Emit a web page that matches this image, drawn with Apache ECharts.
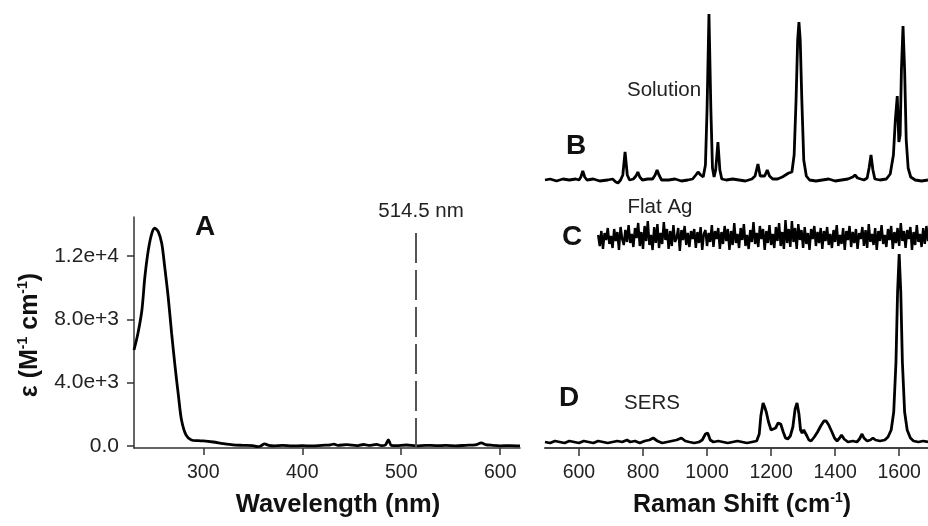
<!DOCTYPE html>
<html><head><meta charset="utf-8">
<script src="https://cdn.jsdelivr.net/npm/echarts@6/dist/echarts.min.js"></script>
<style>html,body{margin:0;padding:0;background:#fff}#c{width:928px;height:526px}</style>
</head><body><div id="c"></div>
<script>
// ---- Panel A: UV-vis absorption ----
const uvWavelengthTicks = [300, 400, 500, 600];
const uvEpsTicks = [0, 4000, 8000, 12000];
const uvEpsTickLabels = ['0.0', '4.0e+3', '8.0e+3', '1.2e+4'];
const uvSpectrum = [
  [230,6070],[234,7130],[238,8600],[241,10700],[244.5,12400],[248,13450],[251,13770],[254.5,13560],
  [258,12820],[261,11340],[264.5,9440],[268,7130],[271.5,5020],[275,3120],[278,1640],[282.5,700],
  [288,380],[295,330],[300,320],[310,250],[320,150],[330,70],[340,40],[350,20],[355,-40],[358,0],
  [362,130],[366,40],[372,10],[380,30],[390,0],[400,20],[410,0],[420,40],[428,60],[432,120],[436,40],
  [445,80],[455,20],[462,90],[468,30],[475,100],[480,20],[484,60],[487,380],[490,40],[495,20],[505,60],
  [515,10],[525,40],[535,20],[545,30],[555,10],[565,40],[575,70],[581,190],[585,90],[592,40],[600,10],
  [610,20],[620,0]
];
const laserWavelength = 514.5;
const laserLineTop = 13800;

// ---- Panels B, C, D: Raman spectra (arbitrary intensity) ----
const ramanTicks = [600, 800, 1000, 1200, 1400, 1600];
const solutionSpectrum = [
  [494,0],[510,1],[530,-1],[550,1],[570,0],[590,1],[600,0],[606,3],[612,9],[618,3],[625,0],[645,1],
  [665,-1],[690,0],[705,1],[715,-2],[722,-3],[730,0],[737,5],[744,28],[751,5],[758,0],[770,1],[778,4],
  [784,8],[790,3],[798,0],[815,1],[830,1],[838,5],[844,10],[850,5],[858,0],[880,0],[900,1],[920,-1],
  [940,0],[955,1],[965,5],[972,8],[980,5],[988,3],[995,15],[1000,70],[1006,166],[1012,70],[1017,12],
  [1022,3],[1027,10],[1034,38],[1040,10],[1046,1],[1060,0],[1080,1],[1100,0],[1120,-1],[1140,1],
  [1150,4],[1159,16],[1166,4],[1172,2],[1180,4],[1188,10],[1195,4],[1205,1],[1220,1],[1235,3],
  [1245,5],[1255,7],[1265,8],[1272,25],[1278,80],[1283,140],[1287,158],[1291,140],[1296,80],[1302,20],
  [1310,4],[1320,0],[1340,-1],[1360,0],[1380,1],[1400,-1],[1420,0],[1440,1],[1455,3],[1462,5],[1470,2],
  [1490,0],[1500,2],[1506,12],[1512,25],[1518,10],[1524,1],[1540,0],[1560,1],[1572,6],[1582,25],
  [1588,60],[1594,84],[1599,38],[1603,45],[1607,110],[1612,154],[1617,110],[1622,40],[1628,12],
  [1636,3],[1650,0],[1670,-1],[1690,0]
];
const flatAgStart = 660;
const flatAgStep = 5;
const flatAgNoise = [
  2,-9,6,-12,4,-3,9,-7,1,-11,8,-4,5,-13,10,-2,-8,7,-5,12,
  -6,3,-10,9,-1,14,-9,5,-12,11,-4,16,-8,2,-13,10,-6,13,-11,4,
  -7,15,-3,8,-12,6,-9,12,-5,-1,9,-14,7,-3,11,-8,4,-10,6,-2,
  8,-11,5,-6,10,-13,3,7,-9,4,-5,12,-10,6,-2,9,-12,5,-7,11,
  -4,8,-13,6,-8,14,-6,3,-11,9,-3,13,-9,2,-12,7,-5,15,-7,4,
  -10,11,-2,8,-13,6,-6,12,-8,3,-11,10,-4,14,-9,5,-12,17,-6,8,
  -10,16,-5,9,-12,13,-3,7,-11,10,-7,4,-13,8,-2,11,-9,5,-6,9,
  -12,6,-4,10,-8,3,-11,7,-5,12,-9,2,-7,9,-13,6,-3,11,-10,5,
  -6,8,-12,4,-2,10,-9,7,-11,13,-5,3,-8,9,-13,6,-4,12,-7,2,
  -10,8,-3,11,-12,5,-6,9,-9,14,-4,6,-11,7,-2,10,-13,5,-8,12,
  -5,3,-10,9,-7,11,-4,6,-12,8
];
const sersSpectrum = [
  [494,0],[510,-1],[525,1],[540,0],[555,-1],[570,1],[585,0],[600,-1],[615,1],[630,0],[645,-1],[660,1],
  [675,0],[690,-1],[705,0],[720,1],[735,0],[750,2],[760,0],[775,1],[790,-1],[805,1],[820,2],[832,4],
  [845,1],[860,-1],[875,0],[890,1],[905,2],[920,4],[932,1],[945,0],[960,-1],[975,0],[985,2],[995,8],
  [1002,9],[1010,2],[1020,0],[1035,1],[1050,0],[1065,-1],[1080,0],[1095,1],[1110,0],[1125,-1],[1140,0],
  [1155,1],[1163,8],[1168,26],[1175,39],[1180,35],[1185,30],[1192,20],[1200,12],[1206,10],[1214,14],
  [1222,19],[1230,18],[1238,10],[1245,4],[1252,3],[1260,6],[1268,15],[1275,33],[1281,39],[1287,28],
  [1292,12],[1297,9],[1302,12],[1306,13],[1312,6],[1318,2],[1325,1],[1335,5],[1345,10],[1355,16],
  [1365,21],[1372,21],[1380,17],[1390,10],[1398,4],[1406,1],[1414,4],[1420,7],[1428,3],[1440,0],
  [1455,1],[1468,0],[1476,3],[1484,8],[1490,4],[1500,1],[1510,2],[1518,4],[1526,2],[1540,1],[1555,2],
  [1565,5],[1575,12],[1583,30],[1590,80],[1595,150],[1600,188],[1605,150],[1610,80],[1617,30],
  [1625,12],[1635,4],[1645,1],[1660,0],[1675,1],[1690,0]
];
const traceOffsets = { solution: 268, flatAg: 211, sers: 6 };

// ---- build ----
const FONT = '"Liberation Sans", Arial, Helvetica, sans-serif';
const flatAgSpectrum = flatAgNoise.map((v, i) => [flatAgStart + i * flatAgStep, v]);
const shift = (arr, off) => arr.map(p => [p[0], p[1] + off]);

const chart = echarts.init(document.getElementById('c'), null, { renderer: 'canvas' });
const axisCol = '#333';
const xLabelStyle = { color: '#222', fontSize: 19.5, fontFamily: FONT };
const yLabelStyle = { color: '#222', fontSize: 21, fontFamily: FONT };
const traceStyle = { color: '#000', width: 2.8 };

chart.setOption({
  animation: false,
  backgroundColor: '#fff',
  grid: [
    { left: 134, top: 217, width: 386, height: 231 },
    { left: 545, top: 0, width: 383, height: 448 }
  ],
  xAxis: [
    { gridIndex: 0, type: 'value', min: 230, max: 620,
      axisLine: { show: true, onZero: false, lineStyle: { color: axisCol, width: 1.5 } },
      axisTick: { show: true, length: 7, customValues: uvWavelengthTicks, lineStyle: { color: axisCol, width: 1.5 } },
      axisLabel: { ...xLabelStyle, margin: 15, customValues: uvWavelengthTicks, formatter: v => String(v) },
      splitLine: { show: false } },
    { gridIndex: 1, type: 'value', min: 494, max: 1690,
      axisLine: { show: true, onZero: false, lineStyle: { color: '#444', width: 2 } },
      axisTick: { show: true, length: 8, customValues: ramanTicks, lineStyle: { color: axisCol, width: 1.5 } },
      axisLabel: { ...xLabelStyle, margin: 15, customValues: ramanTicks, formatter: v => String(v) },
      splitLine: { show: false } }
  ],
  yAxis: [
    { gridIndex: 0, type: 'value', min: -130, max: 14480,
      axisLine: { show: true, onZero: false, lineStyle: { color: axisCol, width: 1.5 } },
      axisTick: { show: true, length: 7, customValues: uvEpsTicks, lineStyle: { color: axisCol, width: 1.5 } },
      axisLabel: { ...yLabelStyle, margin: 15, customValues: uvEpsTicks,
        formatter: v => { const i = uvEpsTicks.indexOf(v); return i >= 0 ? uvEpsTickLabels[i] : ''; } },
      splitLine: { show: false } },
    { gridIndex: 1, type: 'value', min: 0, max: 448, show: false }
  ],
  series: [
    { type: 'line', xAxisIndex: 0, yAxisIndex: 0, data: uvSpectrum, showSymbol: false,
      smooth: 0.3, lineStyle: traceStyle,
      markLine: { silent: true, symbol: ['none', 'none'], label: { show: false },
        lineStyle: { color: '#555', width: 2, type: [30, 7] },
        data: [[{ coord: [laserWavelength, -130] }, { coord: [laserWavelength, laserLineTop] }]] } },
    { type: 'line', xAxisIndex: 1, yAxisIndex: 1, data: shift(solutionSpectrum, traceOffsets.solution),
      showSymbol: false, lineStyle: traceStyle },
    { type: 'line', xAxisIndex: 1, yAxisIndex: 1, data: shift(flatAgSpectrum, traceOffsets.flatAg),
      showSymbol: false, lineStyle: { color: '#000', width: 2.4 } },
    { type: 'line', xAxisIndex: 1, yAxisIndex: 1, data: shift(sersSpectrum, traceOffsets.sers),
      showSymbol: false, lineStyle: traceStyle }
  ],
  graphic: [
    { type: 'text', x: 205, y: 227, style: { text: 'A', font: 'bold 28px ' + FONT, fill: '#111', align: 'center', verticalAlign: 'middle' } },
    { type: 'text', x: 421, y: 211, style: { text: '514.5 nm', font: '20.5px ' + FONT, fill: '#222', align: 'center', verticalAlign: 'middle' } },
    { type: 'text', x: 30, y: 335, rotation: Math.PI / 2,
      style: { text: 'ε (M{s|-1} cm{s|-1})', font: 'bold 25px ' + FONT, fill: '#111', align: 'center', verticalAlign: 'middle',
        rich: { s: { font: 'bold 14px ' + FONT, fill: '#111', padding: [0, 0, 14, 0] } } } },
    { type: 'text', x: 338, y: 505, style: { text: 'Wavelength (nm)', font: 'bold 25.5px ' + FONT, fill: '#111', align: 'center', verticalAlign: 'middle' } },
    { type: 'text', x: 742, y: 505,
      style: { text: 'Raman Shift (cm{s|-1})', font: 'bold 25px ' + FONT, fill: '#111', align: 'center', verticalAlign: 'middle',
        rich: { s: { font: 'bold 14px ' + FONT, fill: '#111', padding: [0, 0, 14, 0] } } } },
    { type: 'text', x: 576, y: 146, style: { text: 'B', font: 'bold 28px ' + FONT, fill: '#111', align: 'center', verticalAlign: 'middle' } },
    { type: 'text', x: 664, y: 90, style: { text: 'Solution', font: '20.5px ' + FONT, fill: '#222', align: 'center', verticalAlign: 'middle' } },
    { type: 'text', x: 572, y: 237, style: { text: 'C', font: 'bold 28px ' + FONT, fill: '#111', align: 'center', verticalAlign: 'middle' } },
    { type: 'text', x: 660, y: 207, style: { text: 'Flat Ag', font: '20.5px ' + FONT, fill: '#222', align: 'center', verticalAlign: 'middle' } },
    { type: 'text', x: 569, y: 398, style: { text: 'D', font: 'bold 28px ' + FONT, fill: '#111', align: 'center', verticalAlign: 'middle' } },
    { type: 'text', x: 652, y: 403, style: { text: 'SERS', font: '20.5px ' + FONT, fill: '#222', align: 'center', verticalAlign: 'middle' } }
  ]
});
</script>
</body></html>
